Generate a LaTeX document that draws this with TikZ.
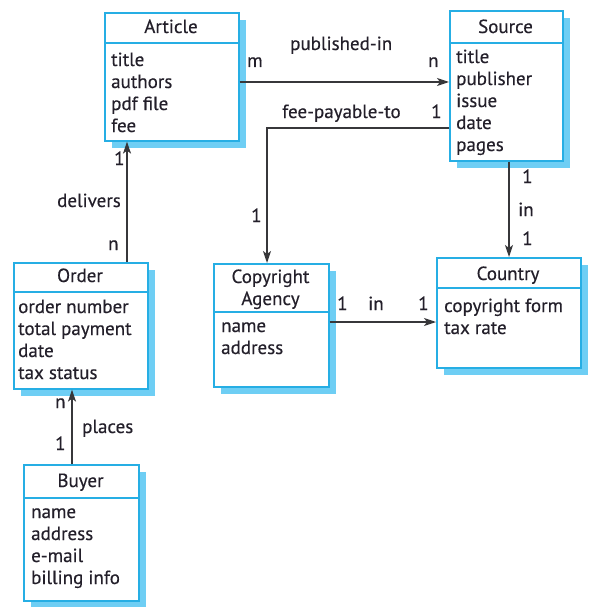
\documentclass[tikz,border=0pt]{standalone}
\usepackage{fontspec}
\setmainfont[FakeBold=0.35]{PT Sans}
\usetikzlibrary{arrows.meta}

\definecolor{boxedge}{RGB}{38,174,228}
\definecolor{boxshade}{RGB}{110,206,244}
\definecolor{ink}{RGB}{35,31,42}
\definecolor{wire}{RGB}{55,55,58}

% Multi-line nodes are placed by the baseline of their last line.
\tikzset{
  entity/.style={draw=boxedge, line width=1.6pt, fill=white, inner sep=0pt, anchor=north west},
  shade/.style={fill=boxshade},
  divider/.style={draw=boxedge, line width=1.6pt},
  txt/.style={font=\fontsize{19}{22}\selectfont, text=ink, inner sep=0pt},
  heading/.style={txt, align=center, anchor=base},
  attrs/.style={txt, align=left, anchor=base west},
  mult/.style={txt, anchor=base west},
  conn/.style={draw=wire, line width=1.4pt, -{Stealth[length=12pt,width=8pt,inset=3pt]}}
}

\begin{document}
\begin{tikzpicture}[x=1pt, y=-1pt]
\useasboundingbox (0,0) rectangle (592,607);

% ---------- Article ----------
\fill[shade] (112,20) rectangle (246,148);
\node[entity, minimum width=134pt, minimum height=128pt] (article) at (104,12) {};
\draw[divider] (104,43) -- (238,43);
\node[heading] (articleT) at (171,33) {Article};
\node[attrs] (articleA) at (111,132) {title\\authors\\pdf file\\fee};

% ---------- Source ----------
\fill[shade] (457,18) rectangle (570,168);
\node[entity, minimum width=113pt, minimum height=150pt] (source) at (449,10) {};
\draw[divider] (449,43) -- (562,43);
\node[heading] (sourceT) at (505.5,33) {Source};
\node[attrs] (sourceA) at (456,151) {title\\publisher\\issue\\date\\pages};

% ---------- Order ----------
\fill[shade] (21,270) rectangle (155,396);
\node[entity, minimum width=134pt, minimum height=126pt] (order) at (13,262) {};
\draw[divider] (13,292) -- (147,292);
\node[heading] (orderT) at (80,282) {Order};
\node[attrs] (orderA) at (18,379) {order number\\total payment\\date\\tax status};

% ---------- Copyright Agency ----------
\fill[shade] (221,271) rectangle (336,394);
\node[entity, minimum width=115pt, minimum height=123pt] (agency) at (213,263) {};
\draw[divider] (213,312) -- (328,312);
\node[heading] (agencyT) at (270.5,305) {Copyright\\Agency};
\node[attrs] (agencyA) at (221,354) {name\\address};

% ---------- Country ----------
\fill[shade] (444,265) rectangle (588,375);
\node[entity, minimum width=144pt, minimum height=110pt] (country) at (436,257) {};
\draw[divider] (436,288) -- (580,288);
\node[heading] (countryT) at (508,280) {Country};
\node[attrs] (countryA) at (444,334) {copyright form\\tax rate};

% ---------- Buyer ----------
\fill[shade] (31,472) rectangle (146,608);
\node[entity, minimum width=115pt, minimum height=136pt] (buyer) at (23,464) {};
\draw[divider] (23,498) -- (138,498);
\node[heading] (buyerT) at (80.5,487) {Buyer};
\node[attrs] (buyerA) at (31,584) {name\\address\\e-mail\\billing info};

% ---------- routing guides ----------
\coordinate (pubrow) at (0,82);
\coordinate (feerow) at (0,128);
\coordinate (feecol) at (267,0);
\coordinate (incol) at (509,0);
\coordinate (inrow) at (0,322);
\coordinate (delcol) at (127,0);
\coordinate (plcol) at (72,0);

% ---------- associations ----------
\draw[conn] (article.east |- pubrow) -- (source.west |- pubrow);
\draw[conn] (source.west |- feerow) -| (agency.north -| feecol);
\draw[conn] (source.south -| incol) -- (country.north -| incol);
\draw[conn] (agency.east |- inrow) -- (country.west |- inrow);
\draw[conn] (order.north -| delcol) -- (article.south -| delcol);
\draw[conn] (buyer.north -| plcol) -- (order.south -| plcol);

% ---------- association names and multiplicities ----------
\node[mult] (pubName) at (290,50) {published-in};
\node[mult] (pubM) at (247,67) {m};
\node[mult] (pubN) at (428,67) {n};

\node[mult] (feeName) at (282,118) {fee-payable-to};
\node[mult] (feeSrc) at (431,118) {1};
\node[mult] (feeAg) at (251,222) {1};

\node[mult] (scSrc) at (522,183) {1};
\node[mult] (scName) at (518,216) {in};
\node[mult] (scCty) at (522,245) {1};

\node[mult] (acAg) at (337,310) {1};
\node[mult] (acName) at (368,310) {in};
\node[mult] (acCty) at (418,310) {1};

\node[mult] (delArt) at (114,165) {1};
\node[mult] (delName) at (57,207) {delivers};
\node[mult] (delOrd) at (108,250) {n};

\node[mult] (plOrd) at (55,408) {n};
\node[mult] (plName) at (82,433) {places};
\node[mult] (plBuy) at (55,450) {1};
\end{tikzpicture}
\end{document}
